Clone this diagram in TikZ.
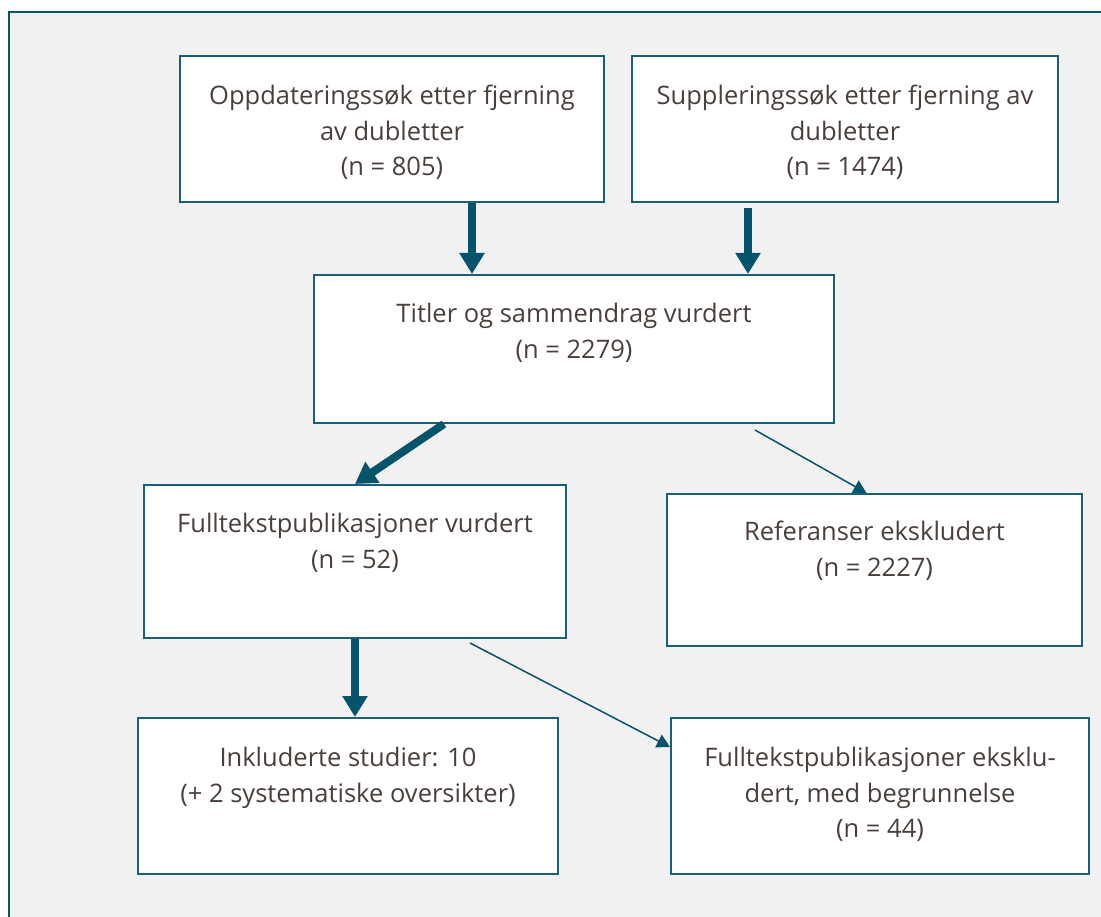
\documentclass[tikz,border=0pt]{standalone}
\usepackage{fontspec}
\setmainfont{Open Sans}
\usepackage{xcolor}
\usetikzlibrary{arrows.meta, positioning, calc}

\definecolor{txtC}{HTML}{4A3F3B}
\definecolor{boxC}{HTML}{1B5E77}
\definecolor{arrC}{HTML}{06546B}
\definecolor{bgC}{HTML}{F1F1F1}

\begin{document}
\begin{tikzpicture}[
  x=1pt, y=-1pt,
  every node/.style={font=\fontsize{25.5}{35.5}\selectfont, text=txtC},
  box/.style={rectangle, draw=boxC, line width=2pt, fill=white, inner sep=0pt},
  txt/.style={align=center, inner sep=0pt},
  fat/.style={-{Triangle[width=24pt, length=21pt]}, line width=8pt, draw=arrC},
  slim/.style={-{Triangle[width=14pt, length=13pt]}, line width=1.5pt, draw=arrC},
]
\useasboundingbox (0,0) rectangle (1101,917);
\clip (0,0) rectangle (1101,917);
% frame
\path[draw=arrC, line width=2pt, fill=bgC] (9,12) rectangle (1120,930);

\node[box, minimum width=424pt, minimum height=146pt] (upd) at (392,129) {};
\node[box, minimum width=426pt, minimum height=146pt, right=26pt of upd] (sup) {};
\node[box, minimum width=520pt, minimum height=148pt] (tit) at (574,349) {};
\node[box, minimum width=422pt, minimum height=153pt] (ful) at (355,561.5) {};
\node[box, minimum width=415pt, minimum height=152pt] (ref) at (874.5,570) {};
\node[box, minimum width=420pt, minimum height=156pt] (inc) at (348,796) {};
\node[box, minimum width=418pt, minimum height=156pt] (eks) at (880,796) {};

\node[txt, below=30pt of upd.north] (updT) {Oppdateringssøk etter fjerning\\av dubletter\\(n = 805)};
\node[txt, below=30pt of sup.north] (supT) {Suppleringssøk etter fjerning av\\dubletter\\(n = 1474)};
\node[txt, below=29pt of tit.north] (titT) {Titler og sammendrag vurdert\\(n = 2279)};
\node[txt, below=29pt of ful.north] (fulT) {Fulltekstpublikasjoner vurdert\\(n = 52)};
\node[txt, below=28pt of ref.north] (refT) {Referanser ekskludert\\(n = 2227)};
\node[txt, below=30pt of inc.north] (incT) {Inkluderte studier: 10\\(+ 2 systematiske oversikter)};
\node[txt, below=30pt of eks.north] (eksT) {Fulltekstpublikasjoner eksklu-\\dert, med begrunnelse\\(n = 44)};

\draw[fat] ([xshift=80pt]upd.south) -- ([xshift=-102pt]tit.north);
\draw[fat] ([xshift=-97pt,yshift=-5pt]sup.south) -- ([xshift=174pt]tit.north);
\draw[fat] ([xshift=-130pt]tit.south) -- (ful.north);
\draw[slim] ([xshift=181pt,yshift=-6pt]tit.south) -- ([xshift=-8pt]ref.north);
\draw[fat] (ful.south) -- ([xshift=7pt]inc.north);
\draw[slim] ([xshift=115pt,yshift=-4pt]ful.south) -- ([yshift=-30pt]eks.north west);
\end{tikzpicture}
\end{document}
